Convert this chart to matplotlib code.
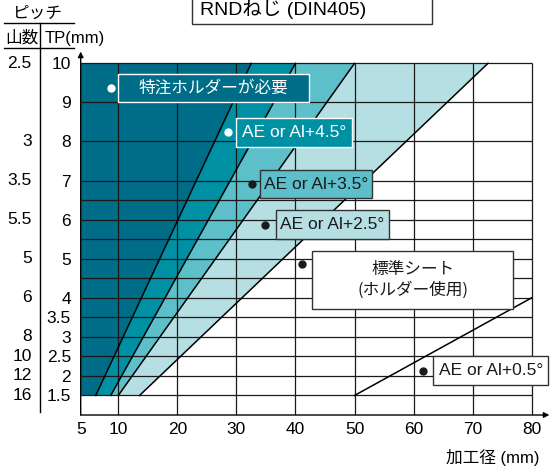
import numpy as np
import matplotlib
matplotlib.use("Agg")
from matplotlib import pyplot as plt, patches as mpatches, font_manager
from matplotlib.lines import Line2D

# --- data -------------------------------------------------------------
x_ticks = [5, 10, 20, 30, 40, 50, 60, 70, 80]
tp_ticks = [1.5, 2, 2.5, 3, 3.5, 4, 5, 6, 7, 8, 9, 10]
tp_labels = ["1.5", "2", "2.5", "3", "3.5", "4", "5", "6", "7", "8", "9", "10"]
tpi_pos = [1.5, 2, 2.5, 3, 4, 5, 6, 7, 8, 10]
tpi_labels = ["16", "12", "10", "8", "6", "5", "5.5", "3.5", "3", "2.5"]
grid_x = [10, 20, 30, 40, 50, 60, 70, 80]
grid_y = [1.5, 2, 2.5, 3, 3.5, 4, 4.5, 5, 5.5, 6, 6.5, 7, 8, 9, 10]

# boundary lines: x at TP=1.5 and x at TP=10
bound_bottom = [7, 9, 10, 13.6]
bound_top = [32.5, 40, 50, 72.6]
std_line_x = [50, 80]
std_line_y = [1.5, 4]
zone_colors = ["#006d88", "#0090a4", "#5dbfca", "#b6dfe3"]

labels = ["特注ホルダーが必要", "AE or Al+4.5°", "AE or Al+3.5°",
          "AE or Al+2.5°", "標準シート\n(ホルダー使用)", "AE or Al+0.5°"]
label_dot_x = [9.0, 28.5, 32.6, 34.8, 41.05, 61.55]
label_box = [(10.0, 42.3, 9.0, 9.73), (29.9, 49.5, 7.87, 8.6),
             (34.0, 53.0, 6.55, 7.27), (36.65, 55.8, 5.5, 6.25),
             (42.75, 76.9, 3.72, 5.21), (63.3, 82.8, 1.77, 2.5)]
label_fill = [zone_colors[0], zone_colors[1], zone_colors[2], zone_colors[3], "white", "white"]
label_ink = ["white", "white", "#1a1a1a", "#1a1a1a", "#1a1a1a", "#1a1a1a"]

# --- fonts ------------------------------------------------------------
names = {f.name for f in font_manager.fontManager.ttflist}
if "Liberation Sans Narrow" in names:
    latin, fs = "Liberation Sans Narrow", 14
else:
    latin, fs = "Liberation Sans", 12.5
plt.rcParams["font.family"] = [latin, "Noto Sans CJK JP", "DejaVu Sans"]
jp = ["Noto Sans CJK JP", "DejaVu Sans"]

# x axis is stretched between 5 and 10
K = 1.273


def fwd(x):
    x = np.asarray(x, float)
    return np.where(x < 10, 10 - (10 - x) * K, x)


def inv(u):
    u = np.asarray(u, float)
    return np.where(u < 10, 10 - (10 - u) / K, u)


fig = plt.figure(figsize=(5.6, 4.73), dpi=100)
ax = fig.add_axes([0.1441, 0.1226, 0.837, 0.7683])
ax.set_xscale("function", functions=(fwd, inv))
ax.set_xlim(5, 83)
ax.set_ylim(1.0, 10.3)

# coloured zones
lefts = [5] + bound_bottom[:-1]
lefts_top = [5] + bound_top[:-1]
for i, c in enumerate(zone_colors):
    poly = [(lefts[i], 1.5), (bound_bottom[i], 1.5), (bound_top[i], 10), (lefts_top[i], 10)]
    ax.add_patch(mpatches.Polygon(poly, closed=True, facecolor=c, edgecolor="none", zorder=1))

# grid
ax.hlines(grid_y, 5, 80, colors="#1a1a1a", lw=0.9, zorder=2)
ax.vlines(grid_x, 1.0, 10, colors="#1a1a1a", lw=0.9, zorder=2)

# boundaries
for b, t in zip(bound_bottom, bound_top):
    ax.plot([b, t], [1.5, 10], color="black", lw=1.1, zorder=3)
ax.plot(std_line_x, std_line_y, color="black", lw=1.1, zorder=3)

# label boxes
for i, txt in enumerate(labels):
    x0, x1, y0, y1 = label_box[i]
    edge = "white" if label_ink[i] == "white" else "#333333"
    ax.add_patch(mpatches.Rectangle((x0, y0), x1 - x0, y1 - y0, facecolor=label_fill[i],
                                    edgecolor=edge, lw=1.0, zorder=4, clip_on=False))
    fam = jp if i in (0, 4) else None
    kw = dict(family=fam) if fam else {}
    ax.text((x0 + x1) / 2, (y0 + y1) / 2, txt, color=label_ink[i], fontsize=12 if fam else fs,
            ha="center", va="center", zorder=5, linespacing=1.25, **kw)
    dot_y = (y0 + y1) / 2 if i != 4 else 4.87
    ax.plot([label_dot_x[i]], [dot_y], "o", ms=5, color=label_ink[i], zorder=5)

# axes
for s in ax.spines.values():
    s.set_visible(False)
ax.annotate("", xy=(0, 1), xytext=(0, 0), xycoords="axes fraction",
            arrowprops=dict(arrowstyle="-|>", color="black", lw=1.0, mutation_scale=8, shrinkA=0, shrinkB=0))
ax.annotate("", xy=(1, 0), xytext=(0, 0), xycoords="axes fraction",
            arrowprops=dict(arrowstyle="-|>", color="black", lw=1.0, mutation_scale=8, shrinkA=0, shrinkB=0))

ax.set_xticks(x_ticks)
ax.set_xticklabels([str(v) for v in x_ticks], fontsize=fs)
ax.set_yticks(tp_ticks)
ax.set_yticklabels(tp_labels, fontsize=fs)
ax.tick_params(axis="x", length=0, pad=5)
ax.tick_params(axis="y", length=0, pad=7)
ax.minorticks_off()

for p, lab in zip(tpi_pos, tpi_labels):
    ax.annotate(lab, xy=(31.7, p), xycoords=("figure pixels", "data"), ha="right", va="center",
                fontsize=fs, annotation_clip=False)

# header on the left
fig.text(38 / 560, 1 - 13.3 / 473, "ピッチ", family=jp, fontsize=12, ha="center", va="center")
fig.text(21.7 / 560, 1 - 38.3 / 473, "山数", family=jp, fontsize=12, ha="center", va="center")
fig.text(45 / 560, 1 - 38.3 / 473, "TP(mm)", fontsize=fs - 0.5, ha="left", va="center")
fig.add_artist(Line2D([4 / 560, 74 / 560], [1 - 22.7 / 473] * 2, color="black", lw=1.0))
fig.add_artist(Line2D([4 / 560, 74 / 560], [1 - 48.3 / 473] * 2, color="black", lw=1.0))
fig.add_artist(Line2D([40 / 560] * 2, [1 - 22.7 / 473, 1 - 411.7 / 473], color="black", lw=1.0))

# title box (cut at the top)
fig.add_artist(mpatches.Rectangle((191.7 / 560, 1 - 24 / 473), 240 / 560, 0.2, transform=fig.transFigure,
                                  facecolor="white", edgecolor="#333333", lw=1.0))
fig.text(200 / 560, 1 - 9.5 / 473, "RNDねじ (DIN405)", fontsize=fs + 1.5, ha="left", va="center")

fig.text(540 / 560, 1 - 457.7 / 473, "加工径 (mm)", fontsize=12, ha="right", va="center")

fig.savefig("out.png", dpi=100)
